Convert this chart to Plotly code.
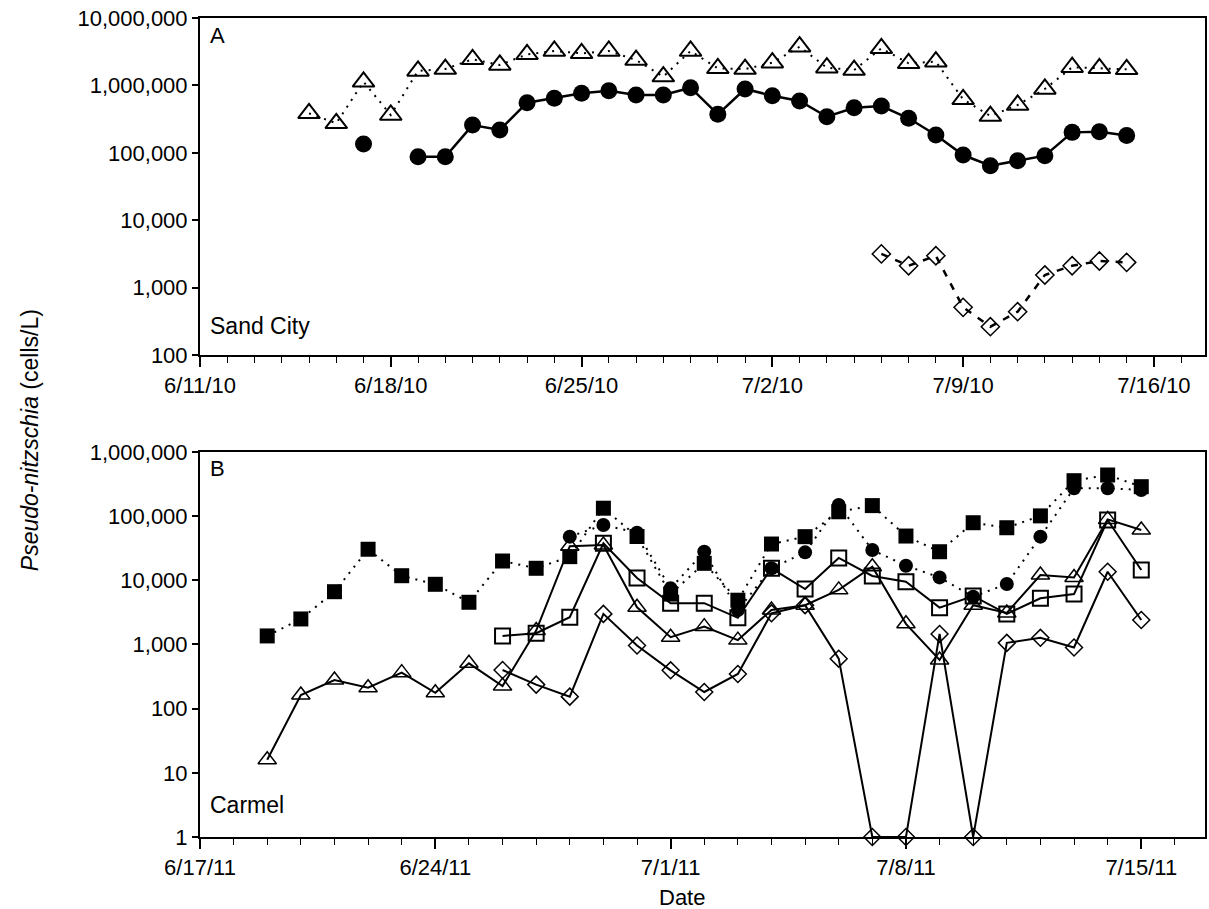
import plotly.graph_objects as go

# ---------------- data ----------------
dates_a = ["2010-06-15", "2010-06-16", "2010-06-17", "2010-06-18", "2010-06-19", "2010-06-20",
           "2010-06-21", "2010-06-22", "2010-06-23", "2010-06-24", "2010-06-25", "2010-06-26",
           "2010-06-27", "2010-06-28", "2010-06-29", "2010-06-30", "2010-07-01", "2010-07-02",
           "2010-07-03", "2010-07-04", "2010-07-05", "2010-07-06", "2010-07-07", "2010-07-08",
           "2010-07-09", "2010-07-10", "2010-07-11", "2010-07-12", "2010-07-13", "2010-07-14",
           "2010-07-15"]
sand_triangle = [385e3, 274e3, 1.13e6, 364e3, 1.64e6, 1.75e6, 2.44e6, 2.01e6, 2.89e6, 3.24e6,
                 2.99e6, 3.24e6, 2.38e6, 1.35e6, 3.24e6, 1.79e6, 1.75e6, 2.17e6, 3.75e6, 1.83e6,
                 1.69e6, 3.55e6, 2.13e6, 2.25e6, 622e3, 351e3, 512e3, 885e3, 1.86e6, 1.79e6, 1.73e6]
sand_circle = [None, None, 135e3, None, 87.5e3, 87.5e3, 258e3, 218e3, 553e3, 644e3,
               764e3, 834e3, 720e3, 720e3, 925e3, 372e3, 885e3, 703e3, 587e3, 343e3,
               467e3, 495e3, 325e3, 184e3, 92.7e3, 64.4e3, 76.3e3, 90.6e3, 201e3, 206e3, 180e3]
sand_diamond = [None] * 21 + [3160, 2110, 2970, 510, 263, 439, 1540, 2110, 2480, 2370]

dates_b = ["2011-06-19", "2011-06-20", "2011-06-21", "2011-06-22", "2011-06-23", "2011-06-24",
           "2011-06-25", "2011-06-26", "2011-06-27", "2011-06-28", "2011-06-29", "2011-06-30",
           "2011-07-01", "2011-07-02", "2011-07-03", "2011-07-04", "2011-07-05", "2011-07-06",
           "2011-07-07", "2011-07-08", "2011-07-09", "2011-07-10", "2011-07-11", "2011-07-12",
           "2011-07-13", "2011-07-14", "2011-07-15"]
carmel_filled_square = [1360, 2500, 6650, 30500, 11800, 8670, 4550, 20000, 15400, 23400,
                        133000, 48200, 6100, 18400, 4900, 36800, 47900, 117000, 146000, 49000,
                        27900, 79000, 66000, 101000, 357000, 438000, 288000]
carmel_filled_circle = [None] * 9 + [47900, 72800, 55200, 7500, 27900, 3450, 15400, 27300, 149000,
                                     29700, 16900, 11100, 5560, 8770, 47900, 272000, 272000, 256000]
carmel_triangle = [16, 163, 280, 212, 364, 177, 509, 225, 1650, 34000, 35500, 3800, 1300, 1900,
                   1170, 3450, 4100, 7100, 16300, 2100, 574, 4100, 3100, 12100, 11100, 89000, 61000]
carmel_open_square = [None] * 7 + [1360, 1500, 2660, 37800, 10900, 4400, 4400, 2600, 15400, 7300,
                                   22300, 11700, 9500, 3750, 5700, 3000, 5250, 6100, 87000, 14500]
carmel_diamond = [None] * 7 + [400, 237, 154, 3000, 966, 396, 182, 347, 3060, 4100, 601,
                               1, 1, 1460, 1, 1060, 1270, 898, 13600, 2410]

ytick_vals_a = [100, 1000, 10000, 100000, 1000000, 10000000]
ytick_text_a = ["100", "1,000", "10,000", "100,000", "1,000,000", "10,000,000"]
ytick_vals_b = [1, 10, 100, 1000, 10000, 100000, 1000000]
ytick_text_b = ["1", "10", "100", "1,000", "10,000", "100,000", "1,000,000"]

# ---------------- figure ----------------
FONT = "Liberation Sans, Arial, Helvetica, sans-serif"
DAY = 86400000
fig = go.Figure()

# Panel A
fig.add_trace(go.Scatter(x=dates_a, y=sand_triangle, mode="lines+markers", xaxis="x", yaxis="y",
                         line=dict(color="black", width=2, dash="2px,6px"),
                         marker=dict(symbol="triangle-up-open", size=19, color="black",
                                     line=dict(width=2, color="black")),
                         cliponaxis=False))
fig.add_trace(go.Scatter(x=dates_a, y=sand_circle, mode="lines+markers", xaxis="x", yaxis="y",
                         line=dict(color="black", width=2.5),
                         marker=dict(symbol="circle", size=17, color="black"),
                         connectgaps=False, cliponaxis=False))
fig.add_trace(go.Scatter(x=dates_a, y=sand_diamond, mode="lines+markers", xaxis="x", yaxis="y",
                         line=dict(color="black", width=2.5, dash="7px,8px"),
                         marker=dict(symbol="diamond-open", size=14, color="black",
                                     line=dict(width=1.5, color="black")),
                         connectgaps=False, cliponaxis=False))

# Panel B
fig.add_trace(go.Scatter(x=dates_b, y=carmel_filled_square, mode="lines+markers", xaxis="x2", yaxis="y2",
                         line=dict(color="black", width=2, dash="2px,6px"),
                         marker=dict(symbol="square", size=15, color="black"),
                         cliponaxis=False))
fig.add_trace(go.Scatter(x=dates_b, y=carmel_filled_circle, mode="lines+markers", xaxis="x2", yaxis="y2",
                         line=dict(color="black", width=2, dash="2px,6px"),
                         marker=dict(symbol="circle", size=14, color="black"),
                         connectgaps=False, cliponaxis=False))
fig.add_trace(go.Scatter(x=dates_b, y=carmel_triangle, mode="lines+markers", xaxis="x2", yaxis="y2",
                         line=dict(color="black", width=2),
                         marker=dict(symbol="triangle-up-open", size=16, color="black",
                                     line=dict(width=1.5, color="black")),
                         cliponaxis=False))
fig.add_trace(go.Scatter(x=dates_b, y=carmel_open_square, mode="lines+markers", xaxis="x2", yaxis="y2",
                         line=dict(color="black", width=2),
                         marker=dict(symbol="square-open", size=15, color="black",
                                     line=dict(width=2, color="black")),
                         connectgaps=False, cliponaxis=False))
fig.add_trace(go.Scatter(x=dates_b, y=carmel_diamond, mode="lines+markers", xaxis="x2", yaxis="y2",
                         line=dict(color="black", width=2),
                         marker=dict(symbol="diamond-open", size=13, color="black",
                                     line=dict(width=1.5, color="black")),
                         connectgaps=False, cliponaxis=False))

axis_common = dict(showline=True, linecolor="black", linewidth=2, mirror=True,
                   showgrid=False, zeroline=False, ticks="outside", tickcolor="black",
                   tickfont=dict(family=FONT, size=22, color="black"))

xa = dict(axis_common)
xa.update(type="date", domain=[0, 1], anchor="y", range=["2010-06-11", "2010-07-17 21:00"],
          tick0="2010-06-11", dtick=7 * DAY, tickformat="%-m/%-d/%y", ticklen=10, tickwidth=1.5,
          tickangle=0,
          minor=dict(dtick=DAY, tick0="2010-06-11", ticks="outside", ticklen=6, tickwidth=1,
                     tickcolor="black", showgrid=False))
xb = dict(axis_common)
xb.update(type="date", domain=[0, 1], anchor="y2", range=["2011-06-17", "2011-07-16 21:30"],
          tick0="2011-06-17", dtick=7 * DAY, tickformat="%-m/%-d/%y", ticklen=10, tickwidth=1.5,
          tickangle=0,
          minor=dict(dtick=DAY, tick0="2011-06-17", ticks="outside", ticklen=6, tickwidth=1,
                     tickcolor="black", showgrid=False))
ya = dict(axis_common)
ya.update(type="log", domain=[0.5885, 1.0], anchor="x", range=[2, 7],
          tickvals=ytick_vals_a, ticktext=ytick_text_a, ticklen=6, tickwidth=1.5)
yb = dict(axis_common)
yb.update(type="log", domain=[0.0, 0.4701], anchor="x2", range=[0, 6],
          tickvals=ytick_vals_b, ticktext=ytick_text_b, ticklen=6, tickwidth=1.5)

ann_font = dict(family=FONT, size=22, color="black")
lbl_font = dict(family=FONT, size=23, color="black")
fig.update_layout(
    width=1209, height=909,
    margin=dict(l=200, r=2, t=18, b=72),
    paper_bgcolor="white", plot_bgcolor="white",
    showlegend=False,
    xaxis=xa, yaxis=ya, xaxis2=xb, yaxis2=yb,
    annotations=[
        dict(text="A", x=0.008, y=0.979, xref="paper", yref="paper", xanchor="left",
             yanchor="middle", showarrow=False, font=ann_font),
        dict(text="Sand City", x=0.008, y=0.624, xref="paper", yref="paper", xanchor="left",
             yanchor="middle", showarrow=False, font=lbl_font),
        dict(text="B", x=0.008, y=0.4505, xref="paper", yref="paper", xanchor="left",
             yanchor="middle", showarrow=False, font=ann_font),
        dict(text="Carmel", x=0.008, y=0.039, xref="paper", yref="paper", xanchor="left",
             yanchor="middle", showarrow=False, font=lbl_font),
        dict(text="<i>Pseudo-nitzschia</i> (cells/L)", x=-0.169, y=0.4847, xref="paper",
             yref="paper", xanchor="center", yanchor="middle", textangle=-90,
             showarrow=False, font=dict(family=FONT, size=23, color="black")),
        dict(text="Date", x=0.48, y=-0.0733, xref="paper", yref="paper", xanchor="center",
             yanchor="middle", showarrow=False, font=dict(family=FONT, size=22, color="black")),
    ],
)

fig.write_html("out.html")
